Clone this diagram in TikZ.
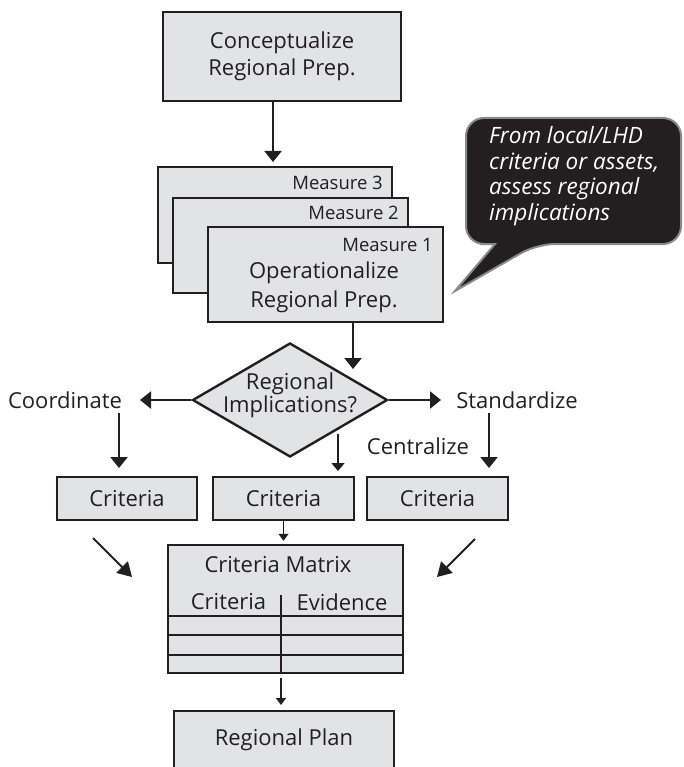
\documentclass[tikz,border=0pt]{standalone}
\usepackage{fontspec}
\setmainfont{Open Sans}
\usetikzlibrary{shapes.geometric,arrows.meta}
\definecolor{ink}{HTML}{231F20}
\definecolor{boxfill}{HTML}{E2E3E5}
\definecolor{callgray}{HTML}{8A8A8A}
\begin{document}
\begin{tikzpicture}[x=1pt,y=-1pt,
  box/.style={draw=ink,line width=2.4pt,fill=boxfill,inner sep=0pt,align=center,text=ink,font=\fontsize{22pt}{27pt}\selectfont},
  txt/.style={inner sep=1pt,align=center,text=ink,font=\fontsize{22pt}{27pt}\selectfont},
  mlbl/.style={inner sep=0pt,text=ink,font=\fontsize{18.5pt}{22pt}\selectfont},
  arr/.style={draw=ink,line width=2pt,-{Triangle[length=11pt,width=17pt]}},
  diagarr/.style={draw=ink,line width=2pt,-{Triangle[length=14pt,width=16pt]}},
  thinarr/.style={draw=ink,line width=1.6pt,-{Triangle[length=8pt,width=13pt]}},
  smallarr/.style={draw=ink,line width=1.4pt,-{Triangle[length=7pt,width=10pt]}},
  gridline/.style={draw=ink,line width=2pt}]
\useasboundingbox (0,0) rectangle (683,767);
\clip (0,0) rectangle (683,767);

% top box
\node[box,minimum width=238pt,minimum height=89pt] (concept) at (282,56.5) {Conceptualize\\Regional Prep.};

% stacked measure boxes
\node[box,minimum width=234pt,minimum height=96pt] (m3) at (275,215) {};
\node[mlbl,anchor=east] (m3t) at (383,183) {Measure 3};
\node[box,minimum width=235pt,minimum height=95pt] (m2) at (290.5,245.5) {};
\node[mlbl,anchor=east] (m2t) at (399,213) {Measure 2};
\node[box,minimum width=235pt,minimum height=95pt] (m1) at (325.5,274.5) {};
\node[mlbl,anchor=east] (m1t) at (433,245) {Measure 1};
\node[txt,font=\fontsize{22pt}{29pt}\selectfont] (m1main) at (324,287.5) {Operationalize\\Regional Prep.};

% callout
\draw[draw=callgray,fill=ink,line width=2pt,rounded corners=18pt]
  (480,244) -- (466,244) -- (466,118) -- (681,118) -- (681,244) -- (537,244)
  [sharp corners] -- (455,291) -- (495,244) -- cycle;
\node[anchor=west,align=left,text=white,inner sep=0pt,
      font=\itshape\fontsize{22.5pt}{25.5pt}\selectfont] (calltext) at (489,176)
  {From local/LHD\\criteria or assets,\\assess regional\\implications};

% decision diamond
\node[diamond,draw=ink,line width=2.4pt,fill=boxfill,inner sep=0pt,
      minimum width=195pt,minimum height=114pt] (dia) at (290,400) {};
\node[txt,font=\fontsize{22pt}{21pt}\selectfont] (diat) at (290,395.5) {Regional\\Implications?};

% branch labels
\node[txt] (coordlbl) at (65,400) {Coordinate};
\node[txt] (stdlbl) at (517,400) {Standardize};
\node[txt] (cenlbl) at (418,446) {Centralize};

% criteria boxes
\node[box,minimum width=140pt,minimum height=43pt] (cl) at (127,498.5) {Criteria};
\node[box,minimum width=141pt,minimum height=43pt] (cm) at (283.5,498.5) {Criteria};
\node[box,minimum width=141pt,minimum height=43pt] (cr) at (437.5,498.5) {Criteria};

% criteria matrix
\node[box,minimum width=235pt,minimum height=128pt] (mat) at (285.5,609) {};
\node[txt] (matt) at (278,565) {Criteria Matrix};
\node[txt] (colA) at (228.5,602) {Criteria};
\node[txt] (colB) at (342,602) {Evidence};
\draw[gridline] (168,616) -- (403,616);
\draw[gridline] (168,635) -- (403,635);
\draw[gridline] (168,655) -- (403,655);
\draw[draw=ink,line width=1.3pt] (281,595) -- (281,673);

% regional plan
\node[box,minimum width=220pt,minimum height=58pt] (plan) at (284,740) {Regional Plan};

% arrow end points
\coordinate (t0) at (273,162);
\coordinate (t1) at (353,369);
\coordinate (tl) at (140,400);
\coordinate (tr) at (441,400);
\coordinate (tcl) at (119,468);
\coordinate (tcr) at (489,468);
\coordinate (tcm) at (338,471);
\coordinate (tp) at (281,705);
\coordinate (d1s) at (93,538);
\coordinate (d1e) at (132,577);
\coordinate (d2s) at (475,539);
\coordinate (d2e) at (437,577);

% connectors
\draw[arr] (concept.south -| t0) -- (t0);
\draw[arr] (m1.south -| t1) -- (t1);
\draw[arr] (dia.west) -- (tl);
\draw[arr] (dia.east) -- (tr);
\draw[arr,shorten <=3pt] (coordlbl.south -| tcl) -- (tcl);
\draw[arr,shorten <=3pt] (stdlbl.south -| tcr) -- (tcr);
\draw[thinarr,shorten <=5pt] (dia.south east -| tcm) -- (tcm);
\draw[smallarr,shorten >=3pt] (cm.south) -- (cm.south |- mat.north);
\draw[smallarr,shorten <=4pt] (mat.south -| tp) -- (tp);
\draw[diagarr] (d1s) -- (d1e);
\draw[diagarr] (d2s) -- (d2e);
\end{tikzpicture}
\end{document}
